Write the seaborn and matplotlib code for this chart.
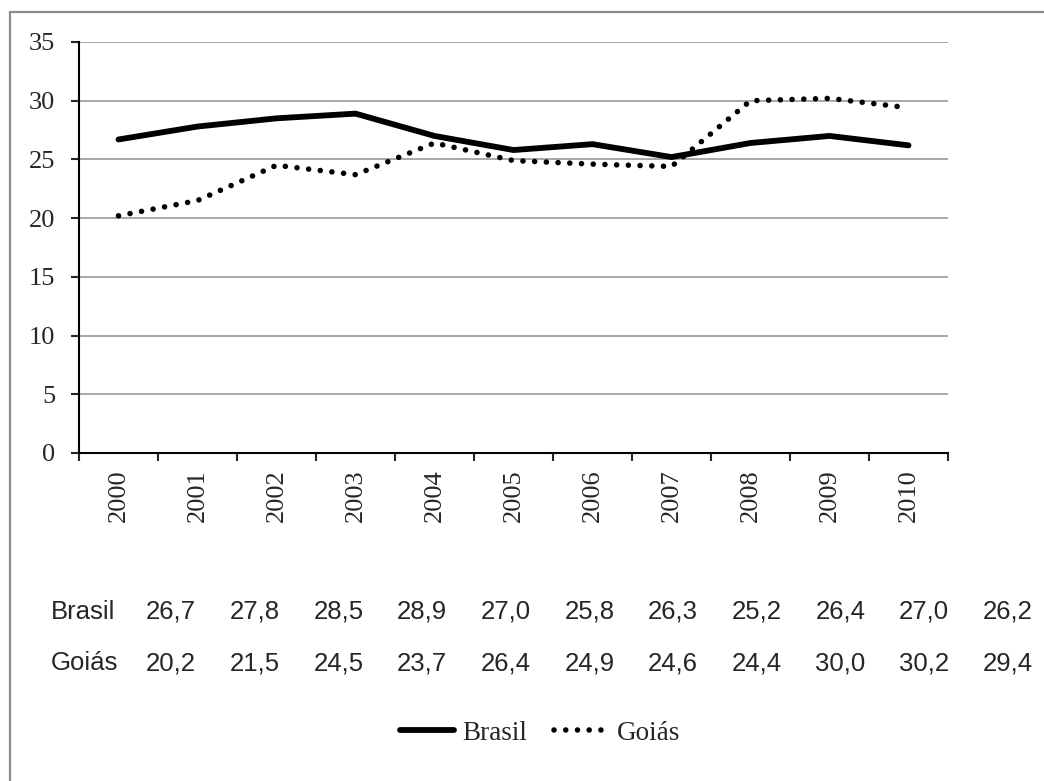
import matplotlib
matplotlib.use("Agg")
import matplotlib.pyplot as plt
import seaborn as sns
import pandas as pd
from matplotlib.patches import Rectangle

# dados
anos = ["2000", "2001", "2002", "2003", "2004", "2005", "2006", "2007", "2008", "2009", "2010"]
brasil = [26.7, 27.8, 28.5, 28.9, 27.0, 25.8, 26.3, 25.2, 26.4, 27.0, 26.2]
goias = [20.2, 21.5, 24.5, 23.7, 26.4, 24.9, 24.6, 24.4, 30.0, 30.2, 29.4]
yticks = [0, 5, 10, 15, 20, 25, 30, 35]

df = pd.DataFrame({"Ano": anos * 2,
                   "Valor": brasil + goias,
                   "Serie": ["Brasil"] * len(anos) + ["Goiás"] * len(anos)})

sns.set_style("white")
plt.rcParams["font.family"] = ["Liberation Serif", "DejaVu Serif"]

fig = plt.figure(figsize=(10.44, 7.81), dpi=100)
ax = fig.add_axes([79 / 1044, 1 - 453 / 781, (948 - 79) / 1044, (453 - 42) / 781])

sns.lineplot(data=df, x="Ano", y="Valor", hue="Serie", style="Serie",
             palette=["black", "black"], dashes=False, sort=False, ax=ax, legend=False)
lns = ax.get_lines()
lns[0].set_linewidth(4.2)
lns[0].set_solid_capstyle("round")
lns[1].set_linewidth(4.0)
lns[1].set_linestyle((0, (0.01, 2.1)))
lns[1].set_dash_capstyle("round")

ax.set_xlim(-0.5, len(anos) - 0.5)
ax.set_ylim(0, 35)
ax.set_yticks(yticks)
ax.set_yticklabels([str(v) for v in yticks], fontsize=19)
ax.set_xticks(range(len(anos)))
ax.set_xticklabels(anos, rotation=90, fontsize=19)
ax.set_xticks([i - 0.5 for i in range(len(anos) + 1)], minor=True)
ax.tick_params(axis="x", which="major", length=0, pad=12)
ax.tick_params(axis="x", which="minor", length=6, width=1.5, direction="out", bottom=True)
ax.tick_params(axis="y", length=6, width=1.5, direction="out", left=True, pad=11)
ax.set_xlabel("")
ax.set_ylabel("")
ax.grid(axis="y", color="#a0a0a0", linewidth=1.3)
ax.set_axisbelow(True)
for s in ["top", "right"]:
    ax.spines[s].set_visible(False)
for s in ["left", "bottom"]:
    ax.spines[s].set_color("black")
    ax.spines[s].set_linewidth(1.5)
    ax.spines[s].set_zorder(3)

# tabela de dados
linhas = [("Brasil", brasil, 612), ("Goiás", goias, 663)]
for nome, vals, yp in linhas:
    fig.text(51 / 1044, 1 - yp / 781, nome, fontsize=18.5, family="Liberation Sans",
             ha="left", va="center")
    for i, v in enumerate(vals):
        fig.text((171 + i * 83.7) / 1044, 1 - yp / 781, f"{v:.1f}".replace(".", ","),
                 fontsize=18.5, family="Liberation Sans", ha="center", va="center")

# legenda
fig.legend(handles=lns, labels=["Brasil", "Goiás"], loc="center",
           bbox_to_anchor=(540 / 1044, 1 - 733 / 781), ncol=2, frameon=False,
           fontsize=19.5, handlelength=2.0, handletextpad=0.3, columnspacing=1.0)

# moldura
fig.patches.append(Rectangle((9.5 / 1044, -0.1), 1.2, 1 - 12 / 781 + 0.1,
                             transform=fig.transFigure, fill=False,
                             edgecolor="#8c8c8c", linewidth=1.6))

fig.savefig("out.png", dpi=100)
